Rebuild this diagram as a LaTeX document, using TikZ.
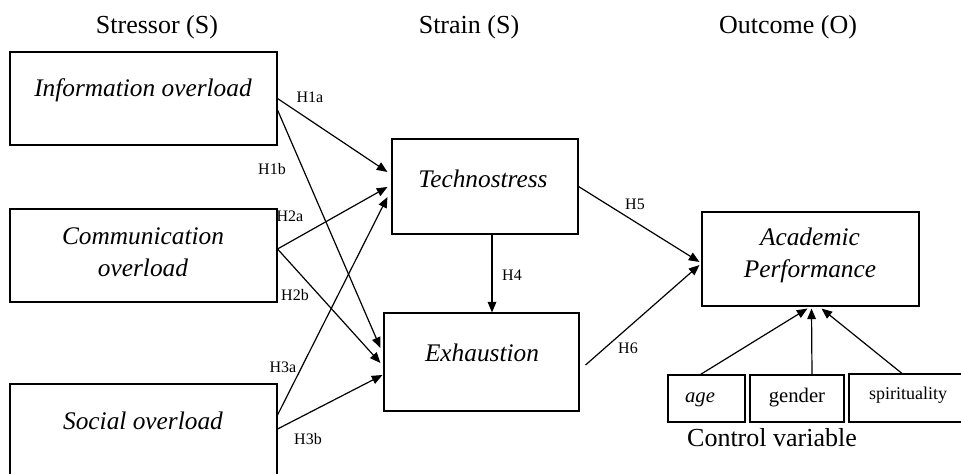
\documentclass[tikz,border=0pt]{standalone}
\usepackage{fontspec}
\setmainfont{Liberation Serif}
\usetikzlibrary{arrows.meta,calc}
\begin{document}
\begin{tikzpicture}
[
    x=0.75pt, y=-0.75pt,
    box/.style={draw, line width=0.8pt, inner sep=0pt},
    big/.style={font=\fontsize{19}{24}\selectfont\itshape, align=center},
    head/.style={font=\fontsize{19.5}{23}\selectfont},
    hyp/.style={font=\fontsize{12}{14}\selectfont, inner sep=0pt},
    link/.style={draw, line width=0.9pt, -{Triangle[length=8pt,width=6.5pt]}},
]
\useasboundingbox (0,0) rectangle (961,474);
\node[head] (stressor) at (157,27) {Stressor (S)};
\node[head] (strain) at (469,27) {Strain (S)};
\node[head] (outcome) at (788,27) {Outcome (O)};

\node[box, minimum width=200.25pt, minimum height=69.75pt] (info) at (143.5,98.5) {};
\node[box, minimum width=200.25pt, minimum height=69.75pt] (comm) at (143.5,255.5) {};
\node[box, minimum width=200.25pt, minimum height=72pt] (social) at (143.5,432) {};
\node[box, minimum width=139.5pt, minimum height=71.25pt] (techno) at (485,186.5) {};
\node[box, minimum width=146.25pt, minimum height=73.5pt] (exhaus) at (481.5,362) {};
\node[box, minimum width=162.75pt, minimum height=70.5pt] (acad) at (810.5,259) {};
\node[box, minimum width=57.75pt, minimum height=35.25pt] (age) at (706.5,398.5) {};
\node[box, minimum width=70.5pt, minimum height=35.25pt] (gender) at (797,398.5) {};
\node[box, minimum width=87pt, minimum height=36pt] (spirit) at (907,398) {};

\node[big] (infotext) at (143,90) {Information overload};
\node[big] (commtext) at (143,252) {Communication\\overload};
\node[big] (socialtext) at (143,421) {Social overload};
\node[big] (technotext) at (483,179) {Technostress};
\node[big] (exhaustext) at (482,353) {Exhaustion};
\node[big] (acadtext) at (810,255.5) {Academic\\Performance};
\node[font=\fontsize{15.5}{18}\selectfont\itshape] (agetext) at (700,400) {age};
\node[font=\fontsize{15.5}{18}\selectfont] (gendertext) at (797,398) {gender};
\node[font=\fontsize{13.5}{16}\selectfont] (spirittext) at (908,395) {spirituality};
\node[head] (control) at (772,438) {Control variable};

\draw[link] (info.east) -- ($(techno.west)+(-4,-14.5)$);
\draw[link] ($(info.east)+(0,11.5)$) -- ($(exhaus.west)+(-3,-14)$);
\draw[link] ($(comm.east)+(0,-6.5)$) -- ($(techno.west)+(-4,0.5)$);
\draw[link] ($(comm.east)+(0,-6.5)$) -- ($(exhaus.west)+(-3,1)$);
\draw[link] ($(social.east)+(0,-17)$) -- ($(techno.west)+(-4,10.5)$);
\draw[link] ($(social.east)+(0,-3)$) -- ($(exhaus.west)+(-1,13)$);
\coordinate (h4top) at ($(techno.south)+(7,0)$);
\draw[link] (h4top) -- (h4top |- exhaus.north);
\draw[link] (techno.east) -- ($(acad.west)+(-2,3)$);
\draw[link] ($(exhaus.east)+(6,3)$) -- ($(acad.west)+(-2,6)$);
\draw[link] ($(age.north)+(-6,0)$) -- ($(acad.south)+(-3,2)$);
\draw[link] ($(gender.north)+(15,0)$) -- ($(acad.south)+(1,2)$);
\draw[link] ($(spirit.north)+(-5,0)$) -- ($(acad.south)+(11,2)$);

\node[hyp] (h1a) at (310,97) {H1a};
\node[hyp] (h1b) at (272,169) {H1b};
\node[hyp] (h2a) at (290,216) {H2a};
\node[hyp] (h2b) at (295,295) {H2b};
\node[hyp] (h3a) at (283,367) {H3a};
\node[hyp] (h3b) at (308,439) {H3b};
\node[hyp] (h4) at (512,275) {H4};
\node[hyp] (h5) at (635,204) {H5};
\node[hyp] (h6) at (628,348) {H6};
\end{tikzpicture}
\end{document}
